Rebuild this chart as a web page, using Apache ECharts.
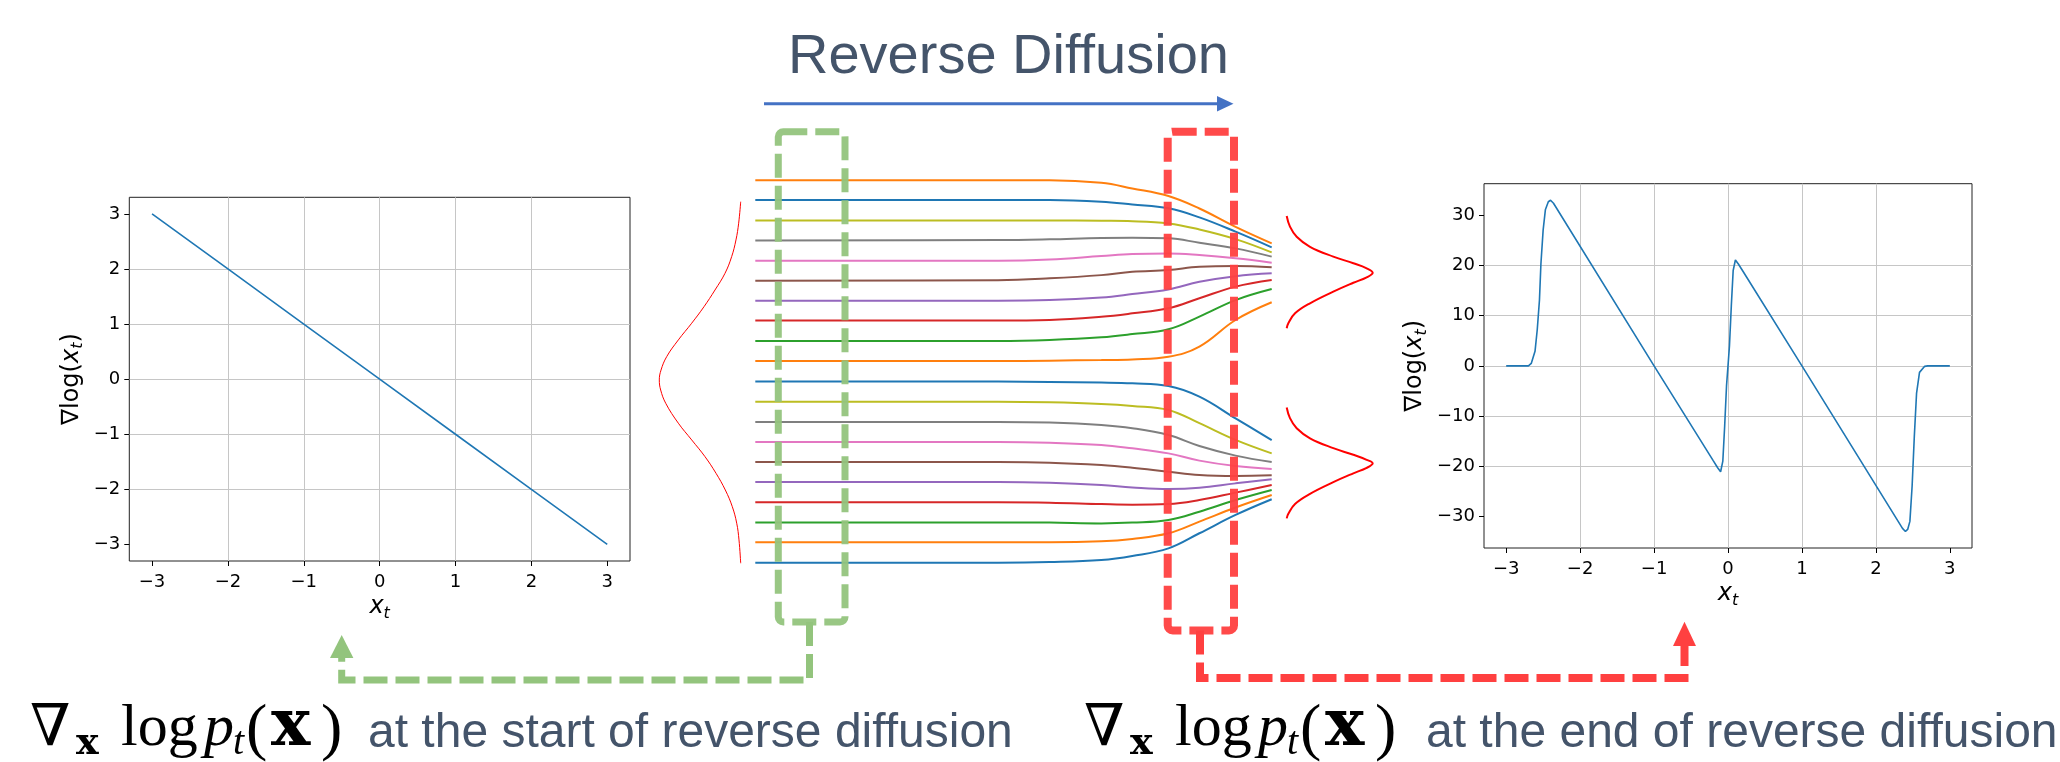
<!DOCTYPE html>
<html>
<head>
<meta charset="utf-8">
<title>Reverse Diffusion score</title>
<script src="https://cdn.jsdelivr.net/npm/echarts@6.0.0/dist/echarts.min.js"></script>
<style>
  html, body { margin: 0; padding: 0; background: #fff; }
  #chart { width: 2060px; height: 762px; }
</style>
</head>
<body>
<div id="chart"></div>
<script>
// tick labels shared by both score plots
const xTicks = [-3, -2, -1, 0, 1, 2, 3];
const leftYTicks = [-3, -2, -1, 0, 1, 2, 3];
const rightYTicks = [-30, -20, -10, 0, 10, 20, 30];

// score at the start of reverse diffusion
const startX = [-3, -2, -1, 0, 1, 2, 3];
const startY = [3, 2, 1, 0, -1, -2, -3];

// score at the end of reverse diffusion
const endX = [-3, -2.7, -2.66, -2.61, -2.58, -2.55, -2.53, -2.5, -2.47, -2.43, -2.4, -2.36, -1, -0.2, -0.14, -0.1, -0.07, -0.045, -0.02, 0, 0.02, 0.045, 0.07, 0.1, 0.14, 0.2, 1, 2.36, 2.4, 2.43, 2.46, 2.49, 2.52, 2.55, 2.59, 2.66, 2.7, 3];
const endY = [0, 0, 0.5, 2.9, 7.2, 13.1, 20.4, 27.1, 31.1, 32.7, 33.0, 32.4, 0, -18.9, -20.3, -21.1, -19, -12, -4, 0, 4, 12, 19, 21.1, 20.3, 18.9, 0, -32.4, -33.0, -32.6, -31.0, -24, -14, -5.5, -1.3, -0.1, 0, 0];

// trajectories: time steps and sample positions
const trajT = [0, 0.47, 0.57, 0.67, 0.73, 0.8, 0.86, 0.93, 1.0];
const trajColors = ['#ff7f0e', '#1f77b4', '#bcbd22', '#7f7f7f', '#e377c2', '#8c564b', '#9467bd', '#d62728', '#2ca02c', '#ff7f0e',
                    '#1f77b4', '#bcbd22', '#7f7f7f', '#e377c2', '#8c564b', '#9467bd', '#d62728', '#2ca02c', '#ff7f0e', '#1f77b4'];
const traj = [
  [9.50, 9.50, 9.50, 9.37, 9.09, 8.71, 8.09, 7.18, 6.36],
  [8.51, 8.51, 8.51, 8.43, 8.29, 8.10, 7.65, 6.94, 6.16],
  [7.50, 7.50, 7.50, 7.48, 7.46, 7.35, 7.05, 6.57, 5.91],
  [6.50, 6.52, 6.56, 6.63, 6.64, 6.61, 6.39, 6.11, 5.70],
  [5.50, 5.50, 5.56, 5.73, 5.83, 5.86, 5.78, 5.62, 5.40],
  [4.50, 4.53, 4.62, 4.78, 4.95, 5.03, 5.20, 5.23, 5.17],
  [3.51, 3.51, 3.54, 3.67, 3.84, 4.07, 4.45, 4.73, 4.87],
  [2.52, 2.52, 2.55, 2.71, 2.88, 3.13, 3.63, 4.21, 4.54],
  [1.51, 1.51, 1.56, 1.69, 1.85, 2.09, 2.72, 3.54, 4.09],
  [0.51, 0.51, 0.53, 0.56, 0.59, 0.72, 1.23, 2.55, 3.43],
  [-0.51, -0.51, -0.53, -0.56, -0.60, -0.73, -1.26, -2.34, -3.42],
  [-1.51, -1.51, -1.54, -1.62, -1.72, -1.92, -2.58, -3.41, -4.08],
  [-2.52, -2.52, -2.55, -2.67, -2.83, -3.17, -3.71, -4.19, -4.51],
  [-3.51, -3.51, -3.55, -3.66, -3.83, -4.08, -4.44, -4.71, -4.86],
  [-4.51, -4.51, -4.54, -4.66, -4.79, -4.99, -5.15, -5.20, -5.17],
  [-5.50, -5.50, -5.54, -5.65, -5.77, -5.85, -5.79, -5.57, -5.37],
  [-6.51, -6.51, -6.53, -6.60, -6.63, -6.60, -6.40, -6.03, -5.65],
  [-7.51, -7.51, -7.52, -7.56, -7.52, -7.39, -6.98, -6.40, -5.90],
  [-8.50, -8.50, -8.50, -8.45, -8.33, -8.05, -7.47, -6.77, -6.15],
  [-9.51, -9.51, -9.48, -9.38, -9.18, -8.80, -8.05, -7.14, -6.36]
];

// prior density (left) and data density (right), density vs position
const priorD = [0, 0.025, 0.058, 0.111, 0.193, 0.316, 0.451, 0.602, 0.766, 0.909, 0.979, 1.0, 0.983, 0.921, 0.766, 0.602, 0.439, 0.303, 0.189, 0.103, 0.049, 0.021, 0];
const priorV = [8.43, 7.36, 6.53, 5.70, 4.87, 4.04, 3.21, 2.39, 1.56, 0.73, 0.06, -0.43, -0.93, -1.59, -2.58, -3.41, -4.24, -5.07, -5.90, -6.73, -7.55, -8.38, -9.54];
const dataD = [0, 0.038, 0.116, 0.271, 0.542, 0.775, 0.930, 1.0, 0.930, 0.775, 0.542, 0.271, 0.097, 0.019, 0];
const dataUpperV = [7.72, 7.19, 6.69, 6.19, 5.70, 5.37, 5.12, 4.90, 4.67, 4.40, 3.96, 3.38, 2.88, 2.39, 2.14];
const dataLowerV = [-1.80, -2.33, -2.83, -3.33, -3.82, -4.15, -4.40, -4.57, -4.80, -5.07, -5.51, -6.09, -6.59, -7.08, -7.31];

const zip = (a, b) => a.map((v, i) => [v, b[i]]);
const minus = v => String(v).replace('-', '\u2212');

const GREEN = '#93c47d';
const RED = '#ff4040';
const SLATE = '#44546a';

const tickFont = { fontFamily: 'DejaVu Sans', fontSize: 18, color: '#000' };
const nameStyle = {
  fontFamily: 'DejaVu Sans', fontSize: 24, color: '#000', lineHeight: 30,
  rich: {
    i: { fontFamily: 'DejaVu Sans', fontStyle: 'italic', fontSize: 24, lineHeight: 30, color: '#000' },
    s: { fontFamily: 'DejaVu Sans', fontStyle: 'italic', fontSize: 16, lineHeight: 16, verticalAlign: 'bottom', color: '#000' }
  }
};
const gridLine = { show: true, showMinLine: false, showMaxLine: false, lineStyle: { color: '#c6c6c6', width: 1 } };

function plotX(gridIndex, gap) {
  return {
    gridIndex, type: 'value', min: -3.3, max: 3.3,
    name: '{i|x}{s|t}', nameLocation: 'middle', nameGap: gap, nameTextStyle: nameStyle,
    axisLine: { show: false, onZero: false },
    axisTick: { show: true, length: 5, lineStyle: { color: '#000' }, customValues: xTicks },
    axisLabel: { ...tickFont, margin: 12, customValues: xTicks, formatter: minus },
    splitLine: gridLine
  };
}
function plotY(gridIndex, ticks, lim, gap) {
  return {
    gridIndex, type: 'value', min: -lim, max: lim,
    name: '\u2207log({i|x}{s|t})', nameLocation: 'middle', nameGap: gap, nameTextStyle: nameStyle,
    axisLine: { show: false, onZero: false },
    axisTick: { show: true, length: 5, lineStyle: { color: '#000' }, customValues: ticks },
    axisLabel: { ...tickFont, margin: 9, customValues: ticks, formatter: minus },
    splitLine: gridLine
  };
}
const hidden = (gridIndex, min, max, inverse) => ({ gridIndex, type: 'value', min, max, inverse: !!inverse, show: false });

// formula "∇x log pt(x)" as separate text pieces
function formula(ox) {
  const base = 750;
  const parts = [
    ['\u2207', 30, 58, 'normal', 'normal', 0, 'DejaVu Serif'],
    ['x', 76, 38, 'bold', 'normal', 7, 'DejaVu Serif'],
    ['log', 121, 60, 'normal', 'normal', 0],
    ['p', 204, 60, 'normal', 'italic', 0],
    ['t', 233, 40, 'normal', 'italic', 7],
    ['(', 246, 64, 'normal', 'normal', 3],
    ['x', 271, 66, 'bold', 'normal', 0, 'DejaVu Serif'],
    [')', 321, 64, 'normal', 'normal', 3]
  ];
  return parts.map(([t, x, size, weight, style, dy, fam]) => ({
    type: 'text', x: ox + x, y: base + dy - 0.34 * size, z: 100,
    style: { text: t, font: `${style} ${weight} ${size}px "${fam || 'Liberation Serif'}"`, fill: '#000', align: 'left', verticalAlign: 'middle' }
  }));
}

const chart = echarts.init(document.getElementById('chart'));
chart.setOption({
  animation: false,
  backgroundColor: '#fff',
  grid: [
    { left: 129.3, top: 197.3, width: 500.7, height: 363.7, show: true, borderColor: '#222', borderWidth: 1 },
    { left: 755.3, top: 170.1, width: 516.4, height: 402.4 },
    { left: 659.3, top: 170.1, width: 81.4, height: 402.4 },
    { left: 1286.7, top: 170.1, width: 86, height: 402.4 },
    { left: 1484, top: 183.7, width: 488, height: 364.3, show: true, borderColor: '#222', borderWidth: 1 }
  ],
  xAxis: [
    plotX(0, 30),
    hidden(1, 0, 1),
    hidden(2, 0, 1, true),
    hidden(3, 0, 1),
    plotX(4, 29)
  ],
  yAxis: [
    plotY(0, leftYTicks, 3.3, 43),
    hidden(1, -10, 10),
    hidden(2, -10, 10),
    hidden(3, -10, 10),
    plotY(4, rightYTicks, 36.3, 54)
  ],
  series: [
    { type: 'line', xAxisIndex: 0, yAxisIndex: 0, data: zip(startX, startY), showSymbol: false, silent: true,
      lineStyle: { color: '#1f77b4', width: 1.6 } },
    ...traj.map((vals, i) => ({
      type: 'line', xAxisIndex: 1, yAxisIndex: 1, data: zip(trajT, vals),
      smooth: 0.4, showSymbol: false, silent: true,
      lineStyle: { color: trajColors[i], width: 2 }
    })),
    { type: 'line', xAxisIndex: 2, yAxisIndex: 2, data: zip(priorD, priorV), smooth: 0.4,
      showSymbol: false, silent: true, lineStyle: { color: '#ff0000', width: 1 } },
    { type: 'line', xAxisIndex: 3, yAxisIndex: 3, data: zip(dataD, dataUpperV), smooth: 0.4,
      showSymbol: false, silent: true, lineStyle: { color: '#ff0000', width: 2 } },
    { type: 'line', xAxisIndex: 3, yAxisIndex: 3, data: zip(dataD, dataLowerV), smooth: 0.4,
      showSymbol: false, silent: true, lineStyle: { color: '#ff0000', width: 2 } },
    { type: 'line', xAxisIndex: 4, yAxisIndex: 4, data: zip(endX, endY), showSymbol: false, silent: true,
      lineStyle: { color: '#1f77b4', width: 1.6 } }
  ],
  graphic: [
    { type: 'text', x: 1008.5, y: 57.3, z: 100,
      style: { text: 'Reverse Diffusion', font: '56px "Liberation Sans"', fill: SLATE, align: 'center', verticalAlign: 'middle' } },
    { type: 'line', z: 100, shape: { x1: 764, y1: 103.7, x2: 1220, y2: 103.7 }, style: { stroke: '#4472c4', lineWidth: 3 } },
    { type: 'polygon', z: 100, shape: { points: [[1217, 96], [1233.5, 103.7], [1217, 111.4]] }, style: { fill: '#4472c4' } },

    { type: 'rect', z: 100, shape: { x: 778.3, y: 131.7, width: 66.7, height: 490.3, r: 5 },
      style: { fill: null, stroke: GREEN, lineWidth: 7, lineDash: [24, 8], opacity: 0.95 } },
    { type: 'rect', z: 100, shape: { x: 1167.7, y: 131.7, width: 66.3, height: 498.8, r: 5 },
      style: { fill: null, stroke: RED, lineWidth: 8, lineDash: [24, 8], opacity: 0.95 } },

    { type: 'polyline', z: 100, shape: { points: [[809.5, 622], [809.5, 680], [341.7, 680], [341.7, 656]] },
      style: { fill: null, stroke: GREEN, lineWidth: 7, lineDash: [24, 8] } },
    { type: 'polygon', z: 100, shape: { points: [[330, 658], [341.7, 635], [353.4, 658]] }, style: { fill: GREEN } },
    { type: 'polyline', z: 100, shape: { points: [[1200, 630.5], [1200, 678], [1684.5, 678], [1684.5, 644]] },
      style: { fill: null, stroke: RED, lineWidth: 8, lineDash: [24, 8] } },
    { type: 'polygon', z: 100, shape: { points: [[1673, 646], [1684.5, 621.7], [1696, 646]] }, style: { fill: RED } },

    ...formula(0),
    { type: 'text', x: 368, y: 733.5, z: 100,
      style: { text: 'at the start of reverse diffusion', font: '48px "Liberation Sans"', fill: SLATE, align: 'left', verticalAlign: 'middle' } },
    ...formula(1054),
    { type: 'text', x: 1426, y: 733.5, z: 100,
      style: { text: 'at the end of reverse diffusion', font: '48px "Liberation Sans"', fill: SLATE, align: 'left', verticalAlign: 'middle' } }
  ]
});
</script>
</body>
</html>
